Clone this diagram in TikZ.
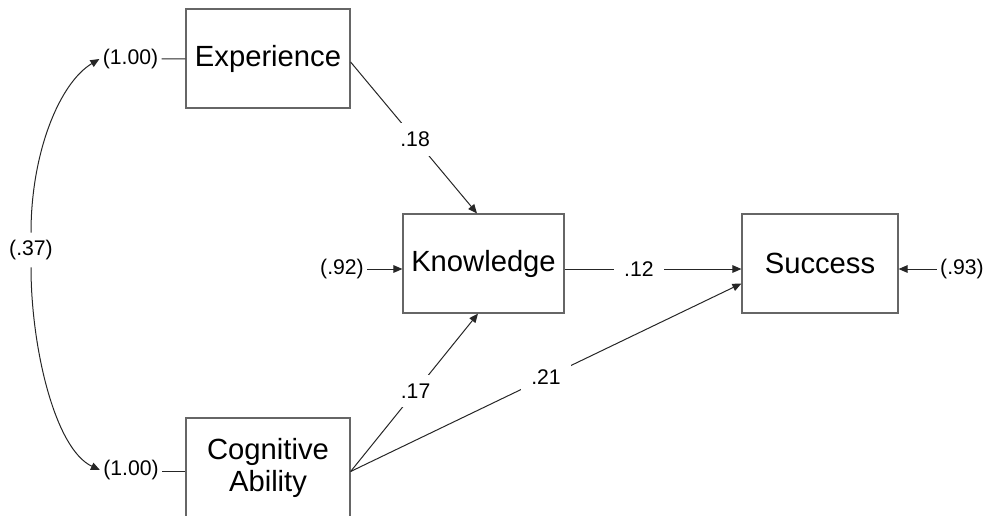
\documentclass[tikz,border=0pt]{standalone}
\usepackage{fontspec}
\setmainfont{Liberation Sans}
\usetikzlibrary{arrows.meta}
\begin{document}
\begin{tikzpicture}[x=0.5pt,y=-0.5pt,
  var/.style={draw=black!60, line width=0.6pt, minimum width=82pt,
    minimum height=49.5pt, inner sep=0pt,
    font=\fontsize{14.6}{16}\selectfont, align=center},
  est/.style={font=\fontsize{10.6}{12}\selectfont, inner sep=1.5pt},
  coef/.style={est, fill=white, inner xsep=5pt, inner ysep=4.5pt},
  link/.style={draw=black!85, line width=0.5pt,
    -{Triangle[length=4.5pt,width=3.8pt]}},
  plain/.style={draw=black!85, line width=0.5pt}
]
\useasboundingbox (0,0) rectangle (989,515);
\clip (0,0) rectangle (989,515);

% observed variables
\node[var] (exp) at (268,58.5) {Experience};
\node[var, minimum height=50pt] (cog) at (268,468) {Cognitive\\Ability};
\node[var, minimum width=80.5pt] (know) at (483.5,263.5) {Knowledge};
\node[var, minimum width=78pt] (succ) at (820,263.5) {Success};

% variances and residuals
\node[est] (e1) at (130.5,59) {(1.00)};
\node[est] (e2) at (131,470) {(1.00)};
\node[est, inner ysep=3.5pt] (c37) at (31,250) {(.37)};
\node[est] (r92) at (342,269) {(.92)};
\node[est] (r93) at (962,269) {(.93)};

\draw[plain] (e1) -- (exp);
\draw[plain] ([yshift=-0.75pt]e2.east) -- ([yshift=-0.75pt]e2.east -| cog.west);

% covariance between the exogenous variables
\draw[link] (c37.north) .. controls +(0,-80) and +(-40,24) .. (e1.west);
\draw[link] (c37.south) .. controls +(0,80) and +(-45,-21) .. (e2.west);

% residual arrows
\draw[link] (r92.east) -- (r92.east -| know.west);
\draw[link] (r93.west) -- (r93.west -| succ.east);

% structural paths
\draw[link] ([yshift=-2.75pt]know.east) -- node[coef, pos=0.42] {.12}
  ([yshift=-2.75pt]succ.west);
\draw[link] ([yshift=-1.75pt]exp.east) -- node[coef, pos=0.51] {.18}
  ([xshift=-3.25pt]know.north);
\draw[link] ([yshift=-1.75pt]cog.east) -- node[coef, pos=0.51] {.17}
  ([xshift=-2.75pt]know.south);
\draw[link] ([yshift=-1.75pt]cog.east) -- node[coef, pos=0.5] {.21}
  ([yshift=-10pt]succ.west);
\end{tikzpicture}
\end{document}
